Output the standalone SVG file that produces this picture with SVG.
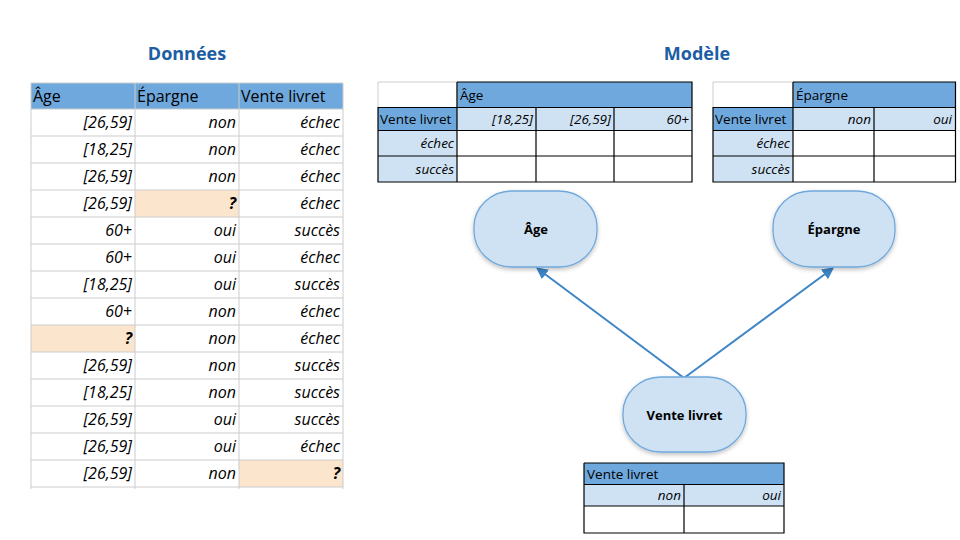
<svg xmlns="http://www.w3.org/2000/svg" width="960" height="540" viewBox="0 0 960 540">
<defs>
<style>
.t{font-family:"Open Sans","Liberation Sans",sans-serif;fill:#000}
.title{font-family:"Open Sans","Liberation Sans",sans-serif;font-weight:700;font-size:18px;fill:#1c5ea4;text-anchor:middle}
.h{font-size:16px}
.d{font-size:16px;font-style:italic;text-anchor:end}
.s{font-size:13.5px}
.si{font-size:13.5px;font-style:italic;text-anchor:end}
.q{font-weight:700}
.grid{stroke:#cccccc;stroke-width:1;fill:none}
.blk{stroke:#000;stroke-width:1.2;fill:none}
.hd{fill:#6fa8dc}
.lb{fill:#cfe2f3}
.or{fill:#fce5cd}
.node{fill:#cfe2f3;stroke:#6fa8dc;stroke-width:1.3;filter:url(#sh)}
.nt{font-family:"Open Sans","Liberation Sans",sans-serif;font-weight:700;font-size:13px;text-anchor:middle}
.edge{stroke:#3d85c6;stroke-width:2;fill:none;marker-end:url(#ah)}
</style>
<marker id="ah" markerWidth="12" markerHeight="12" refX="10" refY="6" orient="auto" markerUnits="userSpaceOnUse">
<path d="M0,0 L12,6 L0,12 z" fill="#3d85c6"/>
</marker>
<filter id="sh" x="-20%" y="-20%" width="140%" height="150%">
<feDropShadow dx="0" dy="2" stdDeviation="2" flood-color="#000" flood-opacity="0.25"/>
</filter>
</defs>
<rect width="960" height="540" fill="#fff"/>

<text class="title" x="187" y="60">Données</text>
<text class="title" x="697" y="60">Modèle</text>

<g id="data-table">
<rect class="hd" x="31" y="83" width="312" height="26"/>
<rect class="or" x="135" y="190" width="104" height="27"/>
<rect class="or" x="31" y="325" width="104" height="27"/>
<rect class="or" x="239" y="460" width="104" height="27"/>
<g class="grid">
<path d="M31,83V489M135,83V489M239,83V489M343,83V489"/>
<path d="M31,83H343M31,109H343M31,136H343M31,163H343M31,190H343M31,217H343M31,244H343M31,271H343M31,298H343M31,325H343M31,352H343M31,379H343M31,406H343M31,433H343M31,460H343M31,487H343"/>
</g>
<g class="t h">
<text x="33" y="102">Âge</text>
<text x="137" y="102">Épargne</text>
<text x="241" y="102">Vente livret</text>
</g>
<g class="t d">
<text x="132" y="128">[26,59]</text><text x="236" y="128">non</text><text x="340" y="128">échec</text>
<text x="132" y="155">[18,25]</text><text x="236" y="155">non</text><text x="340" y="155">échec</text>
<text x="132" y="182">[26,59]</text><text x="236" y="182">non</text><text x="340" y="182">échec</text>
<text x="132" y="209">[26,59]</text><text x="236" y="209" class="q">?</text><text x="340" y="209">échec</text>
<text x="132" y="236">60+</text><text x="236" y="236">oui</text><text x="340" y="236">succès</text>
<text x="132" y="263">60+</text><text x="236" y="263">oui</text><text x="340" y="263">échec</text>
<text x="132" y="290">[18,25]</text><text x="236" y="290">oui</text><text x="340" y="290">succès</text>
<text x="132" y="317">60+</text><text x="236" y="317">non</text><text x="340" y="317">échec</text>
<text x="132" y="344" class="q">?</text><text x="236" y="344">non</text><text x="340" y="344">échec</text>
<text x="132" y="371">[26,59]</text><text x="236" y="371">non</text><text x="340" y="371">succès</text>
<text x="132" y="398">[18,25]</text><text x="236" y="398">non</text><text x="340" y="398">succès</text>
<text x="132" y="425">[26,59]</text><text x="236" y="425">oui</text><text x="340" y="425">succès</text>
<text x="132" y="452">[26,59]</text><text x="236" y="452">oui</text><text x="340" y="452">échec</text>
<text x="132" y="479">[26,59]</text><text x="236" y="479">non</text><text x="340" y="479" class="q">?</text>
</g>
</g>

<g id="table-age">
<rect class="hd" x="457" y="82" width="235" height="25.5"/>
<rect class="hd" x="378" y="107.5" width="79" height="23"/>
<rect class="lb" x="457" y="107.5" width="235" height="23"/>
<rect class="lb" x="378" y="130.5" width="79" height="51.5"/>
<path class="grid" d="M378,82H457V107.5M378,82V107.5"/>
<path class="blk" d="M457,82H692V182H378V107.5H692M378,130.5H692M378,156H692M457,82V182M536,107.5V182M614,107.5V182"/>
<g class="t s">
<text x="460" y="100">Âge</text>
<text x="380" y="124">Vente livret</text>
</g>
<g class="t si">
<text x="533" y="124">[18,25]</text>
<text x="611" y="124">[26,59]</text>
<text x="689" y="124">60+</text>
<text x="454" y="148">échec</text>
<text x="454" y="174">succès</text>
</g>
</g>

<g id="table-epargne">
<rect class="hd" x="793" y="82" width="162.5" height="25.5"/>
<rect class="hd" x="713" y="107.5" width="80" height="23"/>
<rect class="lb" x="793" y="107.5" width="162.5" height="23"/>
<rect class="lb" x="713" y="130.5" width="80" height="51.5"/>
<path class="grid" d="M713,82H793V107.5M713,82V107.5"/>
<path class="blk" d="M793,82H955.5V182H713V107.5H955.5M713,130.5H955.5M713,156H955.5M793,82V182M874,107.5V182"/>
<g class="t s">
<text x="796" y="100">Épargne</text>
<text x="715" y="124">Vente livret</text>
</g>
<g class="t si">
<text x="871" y="124">non</text>
<text x="952" y="124">oui</text>
<text x="790" y="148">échec</text>
<text x="790" y="174">succès</text>
</g>
</g>

<g id="table-vente">
<rect class="hd" x="584" y="463" width="200" height="21.5"/>
<rect class="lb" x="584" y="484.5" width="200" height="21.5"/>
<path class="blk" d="M584,463H784V533H584V463M584,484.5H784M584,506H784M684,484.5V533"/>
<text class="t s" x="587" y="479">Vente livret</text>
<g class="t si">
<text x="681" y="500">non</text>
<text x="781" y="500">oui</text>
</g>
</g>

<g id="connectors">
<path class="edge" d="M684,378L537.5,268.5"/>
<path class="edge" d="M684,378L832.5,268.5"/>
</g>

<g id="node-age">
<rect class="node" x="474" y="191" width="123" height="76" rx="38" ry="36"/>
<text class="nt" x="536" y="234">Âge</text>
</g>
<g id="node-epargne">
<rect class="node" x="773" y="191" width="122" height="76" rx="38" ry="36"/>
<text class="nt" x="834" y="234">Épargne</text>
</g>
<g id="node-vente">
<rect class="node" x="623" y="377" width="123" height="75" rx="38" ry="36"/>
<text class="nt" x="684.5" y="419.5">Vente livret</text>
</g>
</svg>
